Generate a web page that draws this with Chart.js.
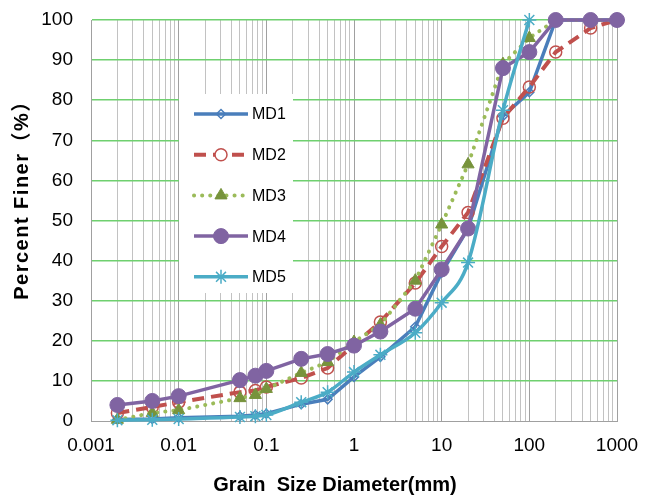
<!DOCTYPE html>
<html>
<head>
<meta charset="utf-8">
<script src="https://cdn.jsdelivr.net/npm/chart.js@4.4.1/dist/chart.umd.min.js"></script>
<style>
  html, body { margin: 0; padding: 0; background: #fff; }
  #wrap { width: 652px; height: 498px; }
</style>
</head>
<body>
<div id="wrap"><canvas id="gradChart" width="652" height="498"></canvas></div>
<script>
// grain size (mm) of each sieve / hydrometer reading
const grainSizes = [0.002, 0.005, 0.01, 0.05, 0.075, 0.1, 0.25, 0.5, 1, 2, 5, 10, 20, 50, 100, 200, 500, 1000];

// percent finer for each sample
const md1 = [0.4, 0.5, 0.8, 1.2, 1.5, 1.8, 4.2, 5.4, 11, 16, 23.5, 37, 48, 76, 82, 100, 100, 100];
const md2 = [2.0, 3.5, 4.7, 7.2, 7.6, 8.5, 10.7, 13.2, 19, 24.7, 34.4, 43.5, 52, 75.5, 83.3, 92, 98, 100];
const md3 = [0.3, 2.0, 2.7, 5.7, 6.5, 8, 12, 14.7, 19.7, 24, 35, 49, 64, 89, 95.5, 100, 100, 100];
const md4 = [4.0, 5.0, 6.2, 10.2, 11.3, 12.5, 15.5, 16.7, 18.8, 22.3, 28, 37.8, 48, 88, 92, 100, 100, 100];
const md5 = [0.2, 0.3, 0.5, 1.0, 1.2, 1.5, 4.7, 7.2, 12.2, 16.5, 22, 29.5, 39.5, 77.5, 100];

const seriesNames = ['MD1', 'MD2', 'MD3', 'MD4', 'MD5'];

// decade ticks on the log axis
const xDecades = [0.001, 0.01, 0.1, 1, 10, 100, 1000];
const xTickLabels = ['0.001', '0.01', '0.1', '1', '10', '100', '1000'];
const yTicks = [0, 10, 20, 30, 40, 50, 60, 70, 80, 90, 100];

const FONT = '"Liberation Sans", Arial, "Noto Sans CJK SC", sans-serif';

function toPoints(values) {
    return values.map((y, i) => ({ x: grainSizes[i], y: y }));
}

// minor grid values: 1..9 in each decade
function buildLogTicks() {
    const out = [];
    for (let d = 0; d < xDecades.length - 1; d++) {
        for (let m = 1; m <= 9; m++) {
            out.push({ value: Number((m * xDecades[d]).toPrecision(3)) });
        }
    }
    out.push({ value: xDecades[xDecades.length - 1] });
    return out;
}

function decadeLabel(v) {
    const i = xDecades.findIndex(d => Math.abs(d - v) / d < 1e-6);
    return i >= 0 ? xTickLabels[i] : '';
}

// legend box drawn inside the plot, like the spreadsheet one
const insideLegend = {
    id: 'insideLegend',
    afterDraw(chart) {
        const ctx = chart.ctx;
        const box = { x: 179, y: 94, w: 114, h: 199 };
        ctx.save();
        ctx.fillStyle = '#ffffff';
        ctx.fillRect(box.x, box.y, box.w, box.h);

        chart.data.datasets.forEach((ds, i) => {
            const y = 114 + i * 40.7;
            const x0 = 194, x1 = 248, xm = (x0 + x1) / 2;
            ctx.save();
            ctx.strokeStyle = ds.borderColor;
            ctx.lineWidth = ds.borderWidth;
            ctx.lineCap = ds.borderCapStyle || 'butt';
            ctx.setLineDash(ds.legendDash || []);
            ctx.beginPath();
            ctx.moveTo(x0, y);
            ctx.lineTo(x1, y);
            ctx.stroke();
            ctx.restore();

            ctx.save();
            ctx.fillStyle = ds.legendFill || ds.pointBackgroundColor;
            ctx.strokeStyle = ds.pointBorderColor;
            ctx.lineWidth = ds.pointBorderWidth;
            Chart.helpers.drawPoint(ctx, {
                pointStyle: ds.pointStyle,
                radius: ds.pointRadius,
                rotation: 0,
                borderWidth: ds.pointBorderWidth
            }, xm, y);
            ctx.restore();

            ctx.fillStyle = '#000';
            ctx.font = '16px ' + FONT;
            ctx.textBaseline = 'middle';
            ctx.textAlign = 'left';
            ctx.fillText(seriesNames[i], 252, y + 1);
        });
        ctx.restore();
    }
};

// axis titles placed by hand
const axisTitles = {
    id: 'axisTitles',
    afterDraw(chart) {
        const ctx = chart.ctx;
        ctx.save();
        ctx.fillStyle = '#000';
        ctx.font = 'bold 20px ' + FONT;
        ctx.textAlign = 'center';
        ctx.textBaseline = 'middle';
        ctx.fillText('Grain  Size Diameter(mm)', 335, 485);

        ctx.translate(22, 195);
        ctx.rotate(-Math.PI / 2);
        ctx.letterSpacing = '1.5px';
        ctx.fillText('Percent Finer（%）', 0, 0);
        ctx.restore();
    }
};

const ctx = document.getElementById('gradChart');

new Chart(ctx, {
    type: 'line',
    data: {
        datasets: [
            {
                label: 'MD1',
                data: toPoints(md1),
                borderColor: '#4a7ebb',
                borderWidth: 3.5,
                pointStyle: 'rectRot',
                pointRadius: 4.5,
                pointBackgroundColor: 'rgba(0,0,0,0)',
                legendFill: 'rgba(0,0,0,0)',
                pointBorderColor: '#4a7ebb',
                pointBorderWidth: 1.5,
                clip: false,
                order: 5
            },
            {
                label: 'MD2',
                data: toPoints(md2),
                borderColor: '#c0504d',
                borderWidth: 4,
                borderDash: [12, 7],
                legendDash: [12, 7],
                pointStyle: 'circle',
                pointRadius: 6,
                pointBackgroundColor: 'rgba(0,0,0,0)',
                legendFill: '#ffffff',
                pointBorderColor: '#c0504d',
                pointBorderWidth: 1.5,
                clip: false,
                order: 4
            },
            {
                label: 'MD3',
                data: toPoints(md3),
                borderColor: '#9bbb59',
                borderWidth: 4,
                borderDash: [0.1, 8],
                legendDash: [0.1, 8],
                borderCapStyle: 'round',
                pointStyle: 'triangle',
                pointRadius: 7,
                pointBackgroundColor: '#77933c',
                pointBorderColor: '#77933c',
                pointBorderWidth: 1,
                clip: false,
                order: 3
            },
            {
                label: 'MD4',
                data: toPoints(md4),
                borderColor: '#8064a2',
                borderWidth: 3.5,
                pointStyle: 'circle',
                pointRadius: 7.5,
                pointBackgroundColor: '#8064a2',
                pointBorderColor: '#8064a2',
                pointBorderWidth: 1,
                clip: false,
                order: 2
            },
            {
                label: 'MD5',
                data: toPoints(md5),
                borderColor: '#4bacc6',
                borderWidth: 3.5,
                tension: 0.35,
                cubicInterpolationMode: 'monotone',
                pointStyle: 'star',
                pointRadius: 7,
                pointBackgroundColor: '#4bacc6',
                pointBorderColor: '#4bacc6',
                pointBorderWidth: 1.5,
                clip: false,
                order: 1
            }
        ]
    },
    options: {
        responsive: false,
        animation: false,
        layout: {
            autoPadding: false,
            padding: { left: 0, right: 35, top: 20, bottom: 0 }
        },
        plugins: {
            legend: { display: false },
            tooltip: { enabled: false }
        },
        scales: {
            x: {
                type: 'logarithmic',
                min: 0.001,
                max: 1000,
                afterBuildTicks: (scale) => { scale.ticks = buildLogTicks(); },
                afterFit: (scale) => { scale.height = 77; },
                grid: {
                    drawTicks: false,
                    color: (c) => (c.tick && decadeLabel(c.tick.value) !== '') ? '#a0a0a0' : '#c2c2c2',
                    lineWidth: 1
                },
                border: { color: '#a0a0a0' },
                ticks: {
                    autoSkip: false,
                    maxRotation: 0,
                    minRotation: 0,
                    padding: 13,
                    color: '#000',
                    font: { family: FONT, size: 19 },
                    callback: (v) => decadeLabel(v)
                }
            },
            y: {
                min: 0,
                max: 100,
                afterBuildTicks: (scale) => { scale.ticks = yTicks.map(v => ({ value: v })); },
                afterFit: (scale) => {
                    scale.width = 91;
                    scale.paddingTop = 0;
                    scale.paddingBottom = 0;
                },
                grid: {
                    drawTicks: false,
                    color: (c) => (c.tick && c.tick.value === 0) ? 'rgba(0,0,0,0)' : '#6fd06f',
                    lineWidth: 1.5
                },
                border: { color: '#a0a0a0' },
                ticks: {
                    padding: 18,
                    color: '#000',
                    font: { family: FONT, size: 19 }
                }
            }
        }
    },
    plugins: [insideLegend, axisTitles]
});
</script>
</body>
</html>
